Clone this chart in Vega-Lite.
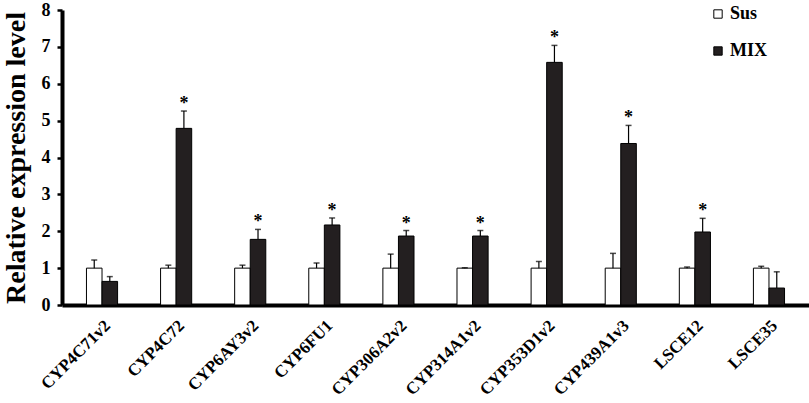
{
  "$schema": "https://vega.github.io/schema/vega-lite/v6.json",
  "width": 747,
  "height": 295,
  "autosize": {"type": "none"},
  "padding": {"left": 62, "top": 10, "right": 0, "bottom": 98},
  "background": "white",
  "config": {
    "view": {"stroke": null},
    "font": "Liberation Serif",
    "axis": {"labelFont": "Liberation Serif", "titleFont": "Liberation Serif", "labelColor": "black", "titleColor": "black", "domainColor": "black", "tickColor": "black", "grid": false},
    "axisX": {"labelAngle": -45}
  },
  "data": {
    "values": [
      {"gene": "CYP4C71v2", "group": "Sus", "value": 1.0, "upper": 1.22, "star": ""},
      {"gene": "CYP4C71v2", "group": "MIX", "value": 0.64, "upper": 0.77, "star": ""},
      {"gene": "CYP4C72", "group": "Sus", "value": 1.0, "upper": 1.08, "star": ""},
      {"gene": "CYP4C72", "group": "MIX", "value": 4.79, "upper": 5.26, "star": "*"},
      {"gene": "CYP6AY3v2", "group": "Sus", "value": 1.0, "upper": 1.08, "star": ""},
      {"gene": "CYP6AY3v2", "group": "MIX", "value": 1.78, "upper": 2.05, "star": "*"},
      {"gene": "CYP6FU1", "group": "Sus", "value": 1.0, "upper": 1.14, "star": ""},
      {"gene": "CYP6FU1", "group": "MIX", "value": 2.17, "upper": 2.36, "star": "*"},
      {"gene": "CYP306A2v2", "group": "Sus", "value": 1.0, "upper": 1.38, "star": ""},
      {"gene": "CYP306A2v2", "group": "MIX", "value": 1.87, "upper": 2.02, "star": "*"},
      {"gene": "CYP314A1v2", "group": "Sus", "value": 1.0, "upper": 1.01, "star": ""},
      {"gene": "CYP314A1v2", "group": "MIX", "value": 1.87, "upper": 2.02, "star": "*"},
      {"gene": "CYP353D1v2", "group": "Sus", "value": 1.0, "upper": 1.18, "star": ""},
      {"gene": "CYP353D1v2", "group": "MIX", "value": 6.58, "upper": 7.04, "star": "*"},
      {"gene": "CYP439A1v3", "group": "Sus", "value": 1.0, "upper": 1.40, "star": ""},
      {"gene": "CYP439A1v3", "group": "MIX", "value": 4.38, "upper": 4.87, "star": "*"},
      {"gene": "LSCE12", "group": "Sus", "value": 1.0, "upper": 1.03, "star": ""},
      {"gene": "LSCE12", "group": "MIX", "value": 1.98, "upper": 2.35, "star": "*"},
      {"gene": "LSCE35", "group": "Sus", "value": 1.0, "upper": 1.05, "star": ""},
      {"gene": "LSCE35", "group": "MIX", "value": 0.46, "upper": 0.90, "star": ""}
    ]
  },
  "encoding": {
    "x": {
      "field": "gene", "type": "nominal", "sort": null,
      "scale": {"paddingInner": 0.58, "paddingOuter": 0.33},
      "axis": {"title": null, "labelAngle": -45, "labelFontSize": 17, "labelFontWeight": "bold", "labelPadding": 12, "ticks": false, "domainWidth": 4,
        "encode": {"labels": {"update": {"angle": {"value": -45}, "align": {"value": "right"}, "baseline": {"value": "middle"}}}}}
    },
    "xOffset": {"field": "group", "type": "nominal", "sort": ["Sus", "MIX"], "scale": {"paddingInner": 0, "paddingOuter": 0}}
  },
  "layer": [
    {
      "mark": {"type": "bar", "stroke": "black", "strokeWidth": 1},
      "encoding": {
        "y": {
          "field": "value", "type": "quantitative",
          "scale": {"domain": [0, 8], "nice": false},
          "axis": {"title": "Relative expression level", "titleFontSize": 28, "titleFontWeight": "bold", "titlePadding": 11, "values": [0,1,2,3,4,5,6,7,8], "labelOverlap": false, "labelFontSize": 18, "labelFontWeight": "bold", "labelPadding": 7, "tickSize": 5, "tickWidth": 2.5, "domainWidth": 4}
        },
        "fill": {
          "field": "group", "type": "nominal",
          "scale": {"domain": ["Sus", "MIX"], "range": ["white", "#231f20"]},
          "legend": {"title": null, "orient": "none", "legendX": 647, "legendY": -5, "symbolType": "square", "symbolSize": 70, "symbolStrokeColor": "black", "symbolStrokeWidth": 1, "labelFontSize": 18, "labelFontWeight": "bold", "labelFont": "Liberation Serif", "labelColor": "black", "labelOffset": 3, "rowPadding": 19, "padding": 0}
        }
      }
    },
    {
      "mark": {"type": "rule", "color": "black", "strokeWidth": 1.2},
      "encoding": {"y": {"field": "value", "type": "quantitative",
          "axis": {"title": "Relative expression level", "titleFontSize": 28, "titleFontWeight": "bold", "titlePadding": 11, "values": [0,1,2,3,4,5,6,7,8], "labelOverlap": false, "labelFontSize": 18, "labelFontWeight": "bold", "labelPadding": 7, "tickSize": 5, "tickWidth": 2.5, "domainWidth": 4}}, "y2": {"field": "upper"}}
    },
    {
      "mark": {"type": "tick", "color": "black", "size": 6, "thickness": 1.5, "orient": "horizontal"},
      "encoding": {"y": {"field": "upper", "type": "quantitative",
          "axis": {"title": "Relative expression level", "titleFontSize": 28, "titleFontWeight": "bold", "titlePadding": 11, "values": [0,1,2,3,4,5,6,7,8], "labelOverlap": false, "labelFontSize": 18, "labelFontWeight": "bold", "labelPadding": 7, "tickSize": 5, "tickWidth": 2.5, "domainWidth": 4}}}
    },
    {
      "transform": [{"filter": "datum.star == '*'"}],
      "mark": {"type": "text", "fontSize": 18, "fontWeight": "bold", "baseline": "alphabetic", "dy": -2, "color": "black", "font": "Liberation Serif"},
      "encoding": {"y": {"field": "upper", "type": "quantitative",
          "axis": {"title": "Relative expression level", "titleFontSize": 28, "titleFontWeight": "bold", "titlePadding": 11, "values": [0,1,2,3,4,5,6,7,8], "labelOverlap": false, "labelFontSize": 18, "labelFontWeight": "bold", "labelPadding": 7, "tickSize": 5, "tickWidth": 2.5, "domainWidth": 4}}, "text": {"field": "star"}}
    }
  ]
}
